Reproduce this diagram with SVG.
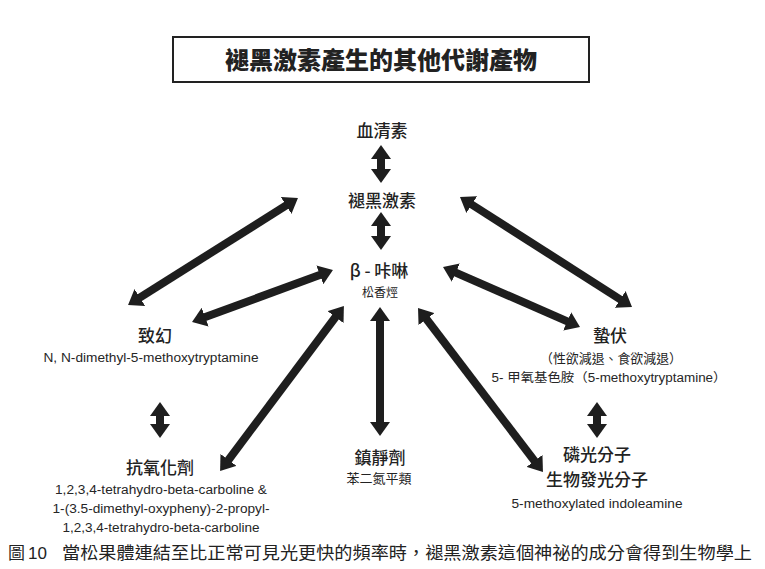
<svg xmlns="http://www.w3.org/2000/svg" width="765" height="569" viewBox="0 0 765 569">
<style>
.zh{font-family:"Noto Sans CJK TC","Noto Sans CJK SC",sans-serif;fill:#222;text-anchor:middle}
.lbl{font-size:17px;font-weight:500}
.sm{font-size:13px}
.en{font-family:"Liberation Sans","Noto Sans CJK TC",sans-serif;font-size:12.5px;fill:#262626;text-anchor:middle}
.arr{stroke:#1e1e1e;stroke-width:8;fill:none;marker-start:url(#h);marker-end:url(#h)}
</style>
<defs>
<marker id="h" viewBox="0 0 14 20" markerWidth="1.75" markerHeight="2.5" refX="2" refY="10" orient="auto-start-reverse">
<path d="M0,0 L14,10 L0,20 z" fill="#1e1e1e"/>
</marker>
</defs>
<rect width="765" height="569" fill="#fff"/>
<g id="title">
<rect x="173" y="37" width="416" height="45" fill="#fff" stroke="#222" stroke-width="2"/>
<text class="zh" x="381" y="69" font-size="24" font-weight="900" textLength="312" lengthAdjust="spacingAndGlyphs">褪黑激素產生的其他代謝產物</text>
</g>
<g id="connectors">
<line class="arr" x1="381" y1="157" x2="381" y2="171"/>
<line class="arr" x1="381" y1="224" x2="381" y2="238"/>
<line class="arr" x1="380" y1="319" x2="380" y2="424"/>
<line class="arr" x1="160" y1="414" x2="160" y2="426"/>
<line class="arr" x1="597" y1="414" x2="597" y2="426"/>
<line class="arr" x1="287.8" y1="204.4" x2="138.2" y2="298.6"/>
<line class="arr" x1="321.7" y1="274.2" x2="203.3" y2="317.8"/>
<line class="arr" x1="336.7" y1="315.5" x2="227.3" y2="461.5"/>
<line class="arr" x1="425.3" y1="317.5" x2="535.7" y2="462.5"/>
<line class="arr" x1="470.1" y1="203.5" x2="621.9" y2="300.5"/>
<line class="arr" x1="454" y1="271.8" x2="569" y2="322.2"/>
</g>
<g id="serotonin"><text class="zh lbl" x="382" y="137">血清素</text></g>
<g id="melatonin"><text class="zh lbl" x="382" y="207">褪黑激素</text></g>
<g id="beta-carboline">
<text class="zh lbl" x="379" y="277">β - 咔啉</text>
<text class="zh" x="380" y="297" font-size="12">松香烴</text>
</g>
<g id="hallucinogen">
<text class="zh lbl" x="155" y="342">致幻</text>
<text class="en" x="151" y="362" textLength="215" lengthAdjust="spacingAndGlyphs">N, N-dimethyl-5-methoxytryptamine</text>
</g>
<g id="antioxidant">
<text class="zh lbl" x="160" y="474">抗氧化劑</text>
<text class="en" x="161" y="494" textLength="212" lengthAdjust="spacingAndGlyphs">1,2,3,4-tetrahydro-beta-carboline &amp;</text>
<text class="en" x="161" y="513" textLength="217" lengthAdjust="spacingAndGlyphs">1-(3.5-dimethyl-oxypheny)-2-propyl-</text>
<text class="en" x="161" y="532" textLength="197" lengthAdjust="spacingAndGlyphs">1,2,3,4-tetrahydro-beta-carboline</text>
</g>
<g id="sedative">
<text class="zh lbl" x="380" y="464">鎮靜劑</text>
<text class="zh sm" x="379" y="483">苯二氮平類</text>
</g>
<g id="hibernation">
<text class="zh lbl" x="610" y="342">蟄伏</text>
<text class="zh sm" x="611" y="363" textLength="142" lengthAdjust="spacingAndGlyphs">（性欲減退、食欲減退）</text>
<text class="en" x="609" y="382" textLength="235" lengthAdjust="spacingAndGlyphs">5- 甲氧基色胺（5-methoxytryptamine）</text>
</g>
<g id="phosphor">
<text class="zh lbl" x="597" y="461">磷光分子</text>
<text class="zh lbl" x="597" y="486">生物發光分子</text>
<text class="en" x="597" y="508" textLength="171" lengthAdjust="spacingAndGlyphs">5-methoxylated indoleamine</text>
</g>
<g id="caption">
<text x="8" y="559" font-family="'Noto Sans CJK TC',sans-serif" font-size="17" fill="#222">圖</text>
<text x="28" y="559" font-family="'Liberation Sans',sans-serif" font-size="17" fill="#222">10</text>
<text x="62" y="559" font-family="'Noto Sans CJK TC',sans-serif" font-size="17" fill="#222" textLength="690" lengthAdjust="spacingAndGlyphs">當松果體連結至比正常可見光更快的頻率時，褪黑激素這個神祕的成分會得到生物學上</text>
</g>
</svg>
